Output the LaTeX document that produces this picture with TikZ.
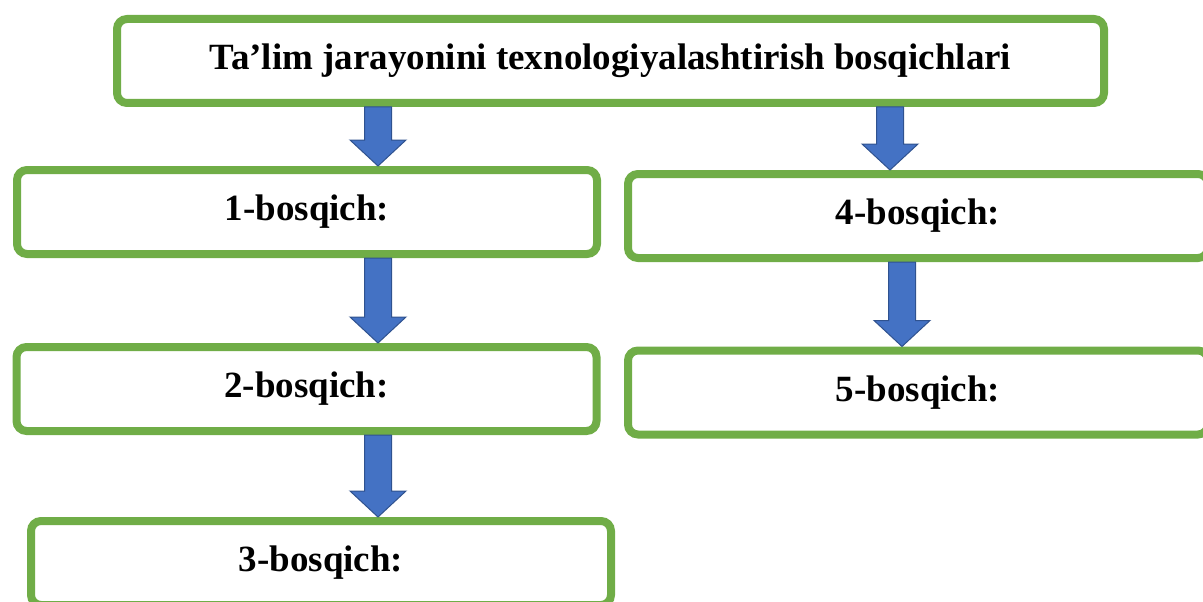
\documentclass[tikz,border=0pt]{standalone}
\usepackage{fontspec}
\setmainfont{Liberation Serif}
\usetikzlibrary{calc}
\definecolor{boxgreen}{HTML}{70AD47}
\definecolor{arrowblue}{HTML}{4472C4}
\definecolor{arrowline}{HTML}{2F528F}
\tikzset{
  stage/.style={draw=boxgreen, line width=8pt, rounded corners=10pt, fill=white,
    minimum width=580pt, minimum height=84pt,
    font=\fontsize{37}{44}\selectfont\bfseries},
  blockarrow/.style={draw=arrowline, fill=arrowblue, line width=1pt,
    to path={let \p1=(\tikztostart), \p2=(\tikztotarget) in
      (\x1-13.5pt,\y1) -- (\x1-13.5pt,\y2+26pt) -- (\x1-28pt,\y2+26pt) -- (\x1,\y2)
      -- (\x1+28pt,\y2+26pt) -- (\x1+13.5pt,\y2+26pt) -- (\x1+13.5pt,\y1) -- cycle}}
}
\begin{document}
\begin{tikzpicture}[x=1pt,y=-1pt]
        \useasboundingbox (0,0) rectangle (1203,602);

            \node[stage, minimum width=987pt] (top) at (610.5,61) {Ta’lim jarayonini texnologiyalashtirish bosqichlari};

            \foreach \n/\x/\y in {1/307/212, 2/306.5/389, 3/321/563, 4/918/216, 5/918/392.5}{
              \node[stage] (s\n) at (\x,\y) {\n-bosqich:};
            }

            % arrow columns
            \coordinate (lc) at (378,0);
            \coordinate (rc) at (890,0);
            \coordinate (rc2) at (902,0);

            \draw[blockarrow] (top.south -| lc) to (s1.north -| lc);
            \draw[blockarrow] (s1.south -| lc) to (s2.north -| lc);
            \draw[blockarrow] (s2.south -| lc) to (s3.north -| lc);
            \draw[blockarrow] (top.south -| rc) to (s4.north -| rc);
            \draw[blockarrow] (s4.south -| rc2) to (s5.north -| rc2);
        \end{tikzpicture}
\end{document}
